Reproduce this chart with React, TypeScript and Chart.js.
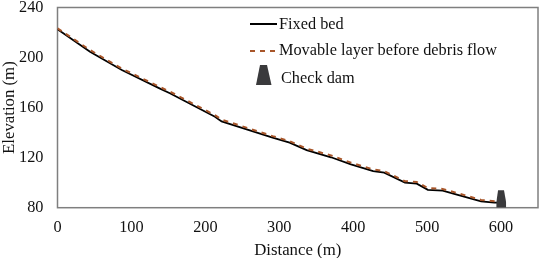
import React, { useEffect, useRef } from "react";
import { Chart, registerables } from "chart.js";

Chart.register(...registerables);

const FONT = '"Liberation Serif", "Times New Roman", serif';

const fixedBedX = [0, 44, 87, 138, 152, 213, 222, 291, 314, 337, 370, 397, 427, 442, 470, 486, 501, 521, 539, 573, 591, 600];
const fixedBedY = [222.6, 204.7, 190, 175.4, 171.5, 152.7, 149, 136, 132, 126, 120.3, 114.7, 109.3, 108, 100, 99.2, 94.3, 93.6, 90.7, 85, 84, 84];

const movableX = [0, 44, 87, 138, 152, 213, 222, 291, 314, 337, 370, 397, 427, 442, 470, 486, 501, 521, 539, 573, 591, 600];
const movableY = [223.4, 206, 191.2, 176.6, 172.8, 154, 150.4, 137.2, 133.2, 127.2, 121.8, 116, 110.6, 109.2, 101.2, 100.6, 95.6, 95, 92, 86.2, 85.2, 85];

const damX = [593.5, 596, 604, 607];
const damY = [84, 94, 94, 84];

const xTicks = [0, 100, 200, 300, 400, 500, 600];
const yTicks = [80, 120, 160, 200, 240];

const LINE_BLACK = "#000000";
const LINE_BROWN = "#a8562a";
const DAM = "#3a3a3c";
const AXIS = "#7f7f7f";

const pairs = (xs: number[], ys: number[]) => xs.map((x, i) => ({ x, y: ys[i] }));

const frame = {
  id: "frame",
  beforeDatasetsDraw(c: any) {
    const { left, right, top, bottom } = c.chartArea;
    const g = c.ctx;
    g.save();
    g.strokeStyle = AXIS;
    g.lineWidth = 1.5;
    g.strokeRect(left, top, right - left, bottom - top);
    g.restore();
  },
};

const legendRows = {
  id: "legendRows",
  afterDraw(c: any) {
    const g = c.ctx;
    const ds = c.data.datasets;
    g.save();
    g.font = `16.3px ${FONT}`;
    g.fillStyle = "#111";
    g.textBaseline = "middle";
    g.textAlign = "left";

    g.strokeStyle = ds[0].borderColor;
    g.lineWidth = 2;
    g.beginPath();
    g.moveTo(250, 24);
    g.lineTo(277, 24);
    g.stroke();
    g.fillText(ds[0].label, 279, 24.5);

    g.strokeStyle = ds[1].borderColor;
    g.setLineDash([5, 5]);
    g.beginPath();
    g.moveTo(250, 51);
    g.lineTo(277, 51);
    g.stroke();
    g.setLineDash([]);
    g.fillText(ds[1].label, 279, 51);

    g.fillStyle = ds[2].backgroundColor;
    g.beginPath();
    g.moveTo(256, 85);
    g.lineTo(260, 65);
    g.lineTo(267, 65);
    g.lineTo(271.5, 85);
    g.closePath();
    g.fill();
    g.fillStyle = "#111";
    g.fillText(ds[2].label, 281, 78.5);
    g.restore();
  },
};

export default function App() {
  const ref = useRef<HTMLCanvasElement>(null);
  useEffect(() => {
    const chart = new Chart(ref.current!, {
      type: "line",
      data: {
        datasets: [
          {
            label: "Fixed bed",
            data: pairs(fixedBedX, fixedBedY),
            borderColor: LINE_BLACK,
            borderWidth: 1.8,
            pointRadius: 0,
            order: 2,
          },
          {
            label: "Movable layer before debris flow",
            data: pairs(movableX, movableY),
            borderColor: LINE_BROWN,
            borderWidth: 2,
            borderDash: [5, 5],
            pointRadius: 0,
            order: 1,
          },
          {
            label: "Check dam",
            data: pairs(damX, damY),
            borderColor: DAM,
            backgroundColor: DAM,
            borderWidth: 0,
            pointRadius: 0,
            fill: true,
            order: 0,
          },
        ],
      } as any,
      options: {
        responsive: false,
        animation: false,
        layout: { autoPadding: false, padding: { left: 0, top: 7.5, right: 2, bottom: 0 } },
        plugins: { legend: { display: false }, tooltip: { enabled: false } },
        scales: {
          x: {
            type: "linear",
            min: 0,
            max: 650,
            grid: { display: false, drawTicks: false },
            border: { display: false },
            afterFit: (s: any) => { s.height = 50.3; s.paddingLeft = 0; s.paddingRight = 0; },
            afterBuildTicks: (s: any) => { s.ticks = xTicks.map((value) => ({ value })); },
            ticks: { font: { family: FONT, size: 16.3 }, color: "#111", padding: 10, maxRotation: 0 },
            title: { display: true, text: "Distance (m)", font: { family: FONT, size: 16.8 }, color: "#111", padding: { top: 0, bottom: -3 } },
          },
          y: {
            min: 80,
            max: 240,
            grid: { display: false, drawTicks: false },
            border: { display: false },
            afterFit: (s: any) => { s.width = 57.5; s.paddingTop = 0; s.paddingBottom = 0; },
            afterBuildTicks: (s: any) => { s.ticks = yTicks.map((value) => ({ value })); },
            ticks: { font: { family: FONT, size: 16.3 }, color: "#111", padding: 14 },
            title: { display: true, text: "Elevation (m)", font: { family: FONT, size: 16.8 }, color: "#111", padding: { top: 0, bottom: 0 } },
          },
        },
      } as any,
      plugins: [frame, legendRows],
    });
    return () => chart.destroy();
  }, []);
  return (
    <div style={{ position: "fixed", left: 0, top: 0, width: 540, height: 258, background: "#fff" }}>
      <canvas ref={ref} width={540} height={258} style={{ display: "block" }} />
    </div>
  );
}
